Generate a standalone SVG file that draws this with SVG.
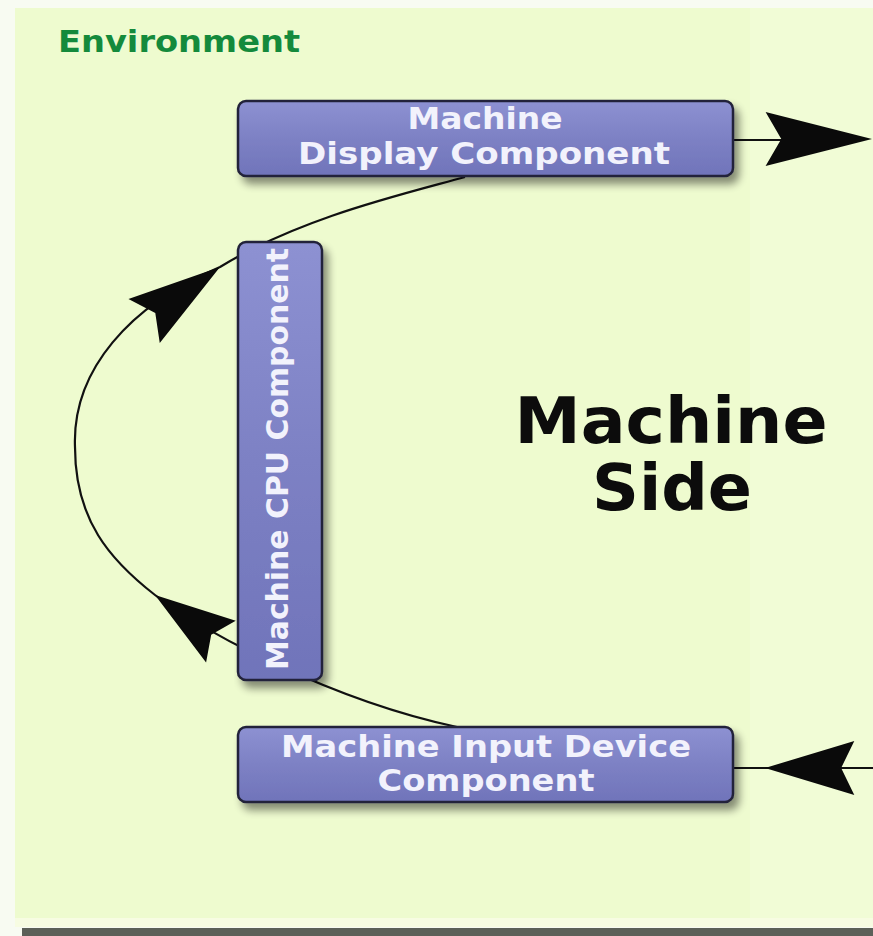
<svg xmlns="http://www.w3.org/2000/svg" width="873" height="936" viewBox="0 0 873 936">
  <style>
    .box { fill: url(#boxGrad); stroke: #23233a; stroke-width: 2.5; filter: url(#shadow); }
    .lbl { font-family: "DejaVu Sans", Verdana, sans-serif; font-weight: bold; font-size: 30px; fill: #f2f2fc; text-anchor: middle; }
    .conn { fill: none; stroke: #111; stroke-width: 2.2; }
    .head { fill: #0a0a0a; }
  </style>
  <defs>
    <linearGradient id="boxGrad" x1="0" y1="0" x2="0" y2="1">
      <stop offset="0" stop-color="#8d91d2"/>
      <stop offset="0.5" stop-color="#7d81c4"/>
      <stop offset="1" stop-color="#7074ba"/>
    </linearGradient>
    <filter id="shadow" x="-10%" y="-20%" width="130%" height="160%">
      <feGaussianBlur in="SourceAlpha" stdDeviation="4"/>
      <feOffset dx="5" dy="7" result="b"/>
      <feComponentTransfer><feFuncA type="linear" slope="0.45"/></feComponentTransfer>
      <feMerge><feMergeNode/><feMergeNode in="SourceGraphic"/></feMerge>
    </filter>
    <path id="ah" class="head" d="M0 0 L-95 -27 L-81 0 L-95 27 Z"/>
  </defs>

  <!-- background -->
  <rect x="0" y="0" width="873" height="936" fill="#f8fbf2"/>
  <rect x="15" y="8" width="858" height="912" fill="#eefbcf"/>
  <rect x="750" y="8" width="123" height="912" fill="#f1fcd6"/>
  <rect x="15" y="918" width="858" height="9" fill="#f7fce2"/>
  <rect x="22" y="928" width="851" height="8" fill="#5c6058"/>

  <text x="58" y="52" font-family="DejaVu Sans, Verdana, sans-serif" font-weight="bold" font-size="30" fill="#148a3c" textLength="242" lengthAdjust="spacingAndGlyphs">Environment</text>

  <!-- connectors (drawn behind nodes) -->
  <g id="connectors">
    <path class="conn" d="M465 177 C400 195, 300 218, 220 267 C130 305, 72 370, 75 447 C75 520, 110 560, 155 595 C200 630, 330 700, 457 727"/>
    <line class="conn" x1="733" y1="140" x2="800" y2="140"/>
    <line class="conn" x1="733" y1="768" x2="873" y2="768"/>
    <use href="#ah" transform="translate(872 139) scale(1.12 1)"/>
    <use href="#ah" transform="translate(765 768) rotate(180) scale(0.94 1)"/>
    <use href="#ah" transform="translate(220 267) rotate(-35.4) scale(0.98 1)"/>
    <use href="#ah" transform="translate(155 595) rotate(215.3) scale(0.85 0.95)"/>
  </g>

  <g id="display">
    <rect class="box" x="238" y="101" width="495" height="75" rx="8"/>
    <text class="lbl" x="485" y="129" textLength="155" lengthAdjust="spacingAndGlyphs">Machine</text>
    <text class="lbl" x="484" y="164" textLength="372" lengthAdjust="spacingAndGlyphs">Display Component</text>
  </g>

  <g id="cpu">
    <rect class="box" x="238" y="242" width="84" height="438" rx="8"/>
    <text class="lbl" transform="translate(288 459) rotate(-90)" x="0" y="0" textLength="422" lengthAdjust="spacingAndGlyphs">Machine CPU Component</text>
  </g>

  <g id="input">
    <rect class="box" x="238" y="727" width="495" height="75" rx="8"/>
    <text class="lbl" x="486" y="757" textLength="410" lengthAdjust="spacingAndGlyphs">Machine Input Device</text>
    <text class="lbl" x="486" y="791" textLength="217" lengthAdjust="spacingAndGlyphs">Component</text>
  </g>

  <g id="title">
    <text x="671" y="443" font-family="DejaVu Sans, Verdana, sans-serif" font-weight="bold" font-size="64" fill="#0c0c0c" text-anchor="middle" textLength="313" lengthAdjust="spacingAndGlyphs">Machine</text>
    <text x="672" y="510" font-family="DejaVu Sans, Verdana, sans-serif" font-weight="bold" font-size="64" fill="#0c0c0c" text-anchor="middle" textLength="160" lengthAdjust="spacingAndGlyphs">Side</text>
  </g>
</svg>
